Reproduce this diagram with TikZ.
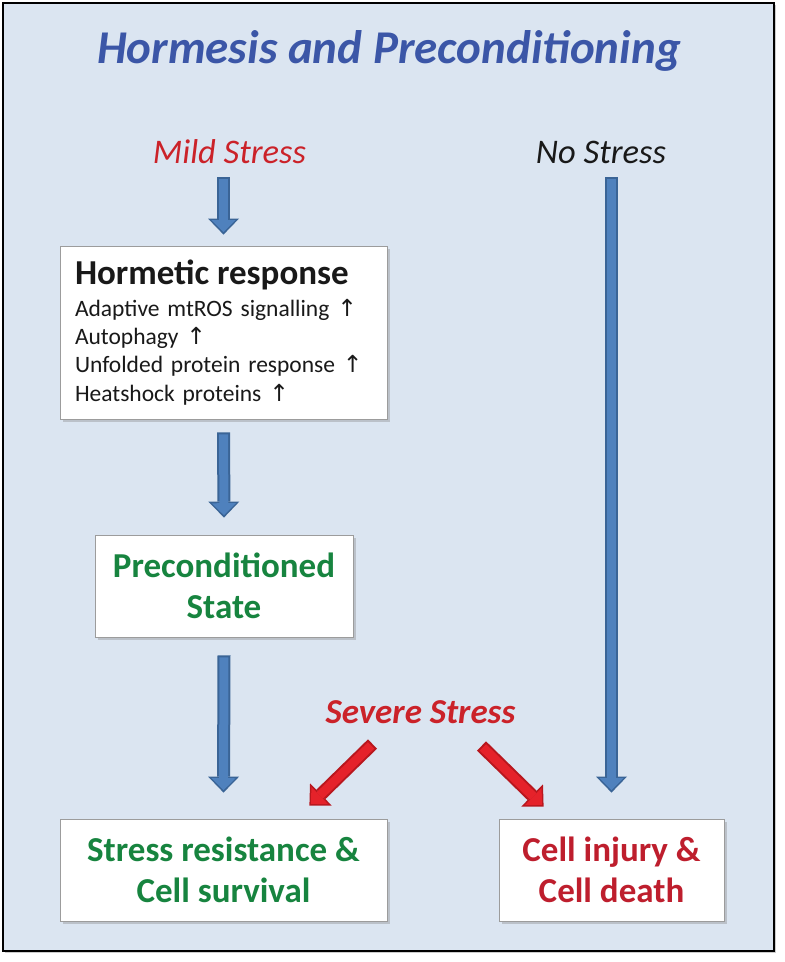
\documentclass[tikz,border=0pt]{standalone}
\usepackage{fontspec}
\setmainfont{Carlito}
\newfontfamily\arrowfont{DejaVu Sans}
\usetikzlibrary{positioning, calc, arrows.meta, shadows}

\definecolor{panelblue}{HTML}{DBE5F1}
\definecolor{titleblue}{HTML}{3B56A7}
\definecolor{mildred}{HTML}{CB2229}
\definecolor{deathred}{HTML}{BE1E2D}
\definecolor{survgreen}{HTML}{17843F}
\definecolor{boxgray}{HTML}{9C9C9C}
\definecolor{arrowfill}{HTML}{4F81BD}
\definecolor{arrowedge}{HTML}{3A6496}
\definecolor{redfill}{HTML}{E5222A}
\definecolor{rededge}{HTML}{B8171E}

\tikzset{
    fat arrow/.style 2 args={line width=13pt, draw=#2,
        -{Triangle[length=16pt, width=31pt, line width=0pt]},
        postaction={draw=#1, line width=9pt, shorten <=2pt, shorten >=2.4pt,
            -{Triangle[length=12pt, width=24pt, line width=0pt]}}},
    bluearrow/.style={fat arrow={arrowfill}{arrowedge}},
    redarrow/.style={fat arrow={redfill}{rededge}},
    box/.style={draw=boxgray, line width=0.8pt, fill=white,
        drop shadow={shadow xshift=2.5pt, shadow yshift=-2.5pt, opacity=0.35},
        align=center, text=survgreen, font=\fontsize{35}{41}\selectfont\bfseries},
    stresslabel/.style={anchor=base, inner sep=0pt, font=\fontsize{34.5}{40}\selectfont\itshape},
}

\begin{document}
\begin{tikzpicture}[x=1pt, y=-1pt]
    \useasboundingbox (0,0) rectangle (785,962);
    \fill[white] (0,0) rectangle (785,962);
    \draw[line width=2pt, fill=panelblue,
        drop shadow={shadow xshift=2pt, shadow yshift=-2pt, opacity=0.4}] (3,3) rectangle (774,951);

    % labels
    \node[anchor=base, text=titleblue, font=\fontsize{47}{56}\selectfont\bfseries\itshape]
        (title) at (389,63) {Hormesis and Preconditioning};
    \node[stresslabel, text=mildred]  (mild)     at (229.5,163) {Mild Stress};
    \node[stresslabel, text=black!90] (nostress) at (601,163)   {No Stress};
    \node[stresslabel, text=mildred, font=\fontsize{35}{40}\selectfont\bfseries\itshape]
        (severe) at (420.5,723) {Severe Stress};

    % boxes
    \node[box, text=black!90, align=left, text width=297pt, inner xsep=15pt, minimum height=173pt,
        font=\fontsize{23.5}{28.3}\selectfont] (hormetic) at (223.5,332.5)
        {{\fontsize{35}{40}\selectfont\bfseries Hormetic response}\\[3pt]
         Adaptive mtROS signalling {\arrowfont ↑}\\
         Autophagy {\arrowfont ↑}\\
         Unfolded protein response {\arrowfont ↑}\\
         Heatshock proteins {\arrowfont ↑}};
    \node[box, minimum width=258pt, minimum height=102pt] (precond)  at (224,586)   {Preconditioned\\State};
    \node[box, minimum width=327pt, minimum height=102pt] (survival) at (223.5,870) {Stress resistance \&\\Cell survival};
    \node[box, minimum width=225pt, minimum height=102pt, text=deathred] (injury) at (611.5,870) {Cell injury \&\\Cell death};

    % arrows
    \draw[bluearrow] ($(mild.base -| hormetic.north)+(0,14)$) -- ($(hormetic.north)+(0,-11)$);
    \draw[bluearrow] ($(hormetic.south)+(0,13)$) -- ($(precond.north)+(0,-17)$);
    \draw[bluearrow] ($(precond.south)+(0,18)$) -- ($(survival.north)+(0,-26)$);
    \draw[bluearrow] ($(nostress.base -| injury.north)+(0,14)$) -- ($(injury.north)+(0,-26)$);
    \draw[redarrow] ($(severe.base)+(-48,21)$) -- ($(survival.north east)+(-78,-13)$);
    \draw[redarrow] ($(severe.base)+(61,23)$) -- ($(injury.north west)+(45,-12)$);
\end{tikzpicture}
\end{document}
